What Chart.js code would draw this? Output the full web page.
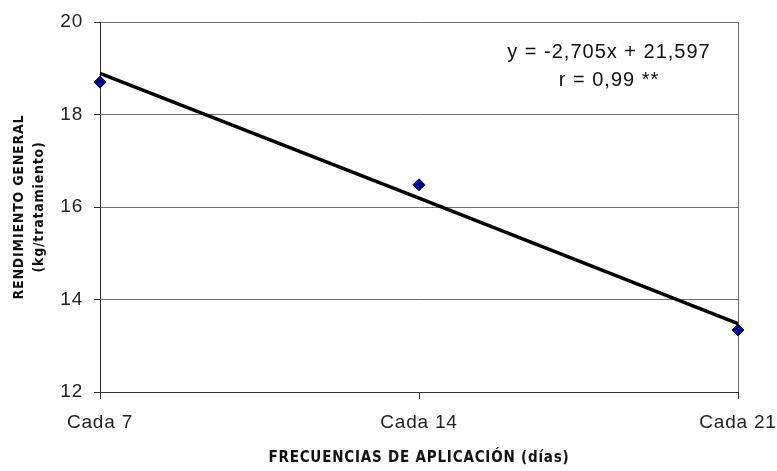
<!DOCTYPE html>
<html>
<head>
<meta charset="utf-8">
<script src="https://cdn.jsdelivr.net/npm/chart.js@4"></script>
<style>
  html, body { margin: 0; padding: 0; background: #fff; }
  #wrap { width: 777px; height: 471px; }
</style>
</head>
<body>
<div id="wrap"><canvas id="rendChart" width="777" height="471"></canvas></div>
<script>
const categories = ["Cada 7", "Cada 14", "Cada 21"];
const rendimiento = [18.7, 16.48, 13.34];
const tendencia = [18.89, 16.19, 13.48];
const yTicks = [12, 14, 16, 18, 20];
const equationLines = ["y = -2,705x + 21,597", "r = 0,99 **"];

const baseFont = "'Liberation Sans', Arial, sans-serif";
const narrowFont = "'DejaVu Sans Condensed', 'Liberation Sans', Arial, sans-serif";

// slightly wider letter spacing, like the original Windows rendering
const spacingPlugin = {
    id: "spacing",
    beforeDraw(chart) { chart.ctx.letterSpacing = "0.8px"; },
    afterDraw(chart) { chart.ctx.letterSpacing = "0px"; }
};

// writes the regression text in the upper right corner
const equationPlugin = {
    id: "equation",
    afterDraw(chart) {
        const ctx = chart.ctx;
        ctx.save();
        ctx.letterSpacing = "1px";
        ctx.font = "20px " + baseFont;
        ctx.fillStyle = "#111";
        ctx.textAlign = "center";
        ctx.textBaseline = "middle";
        ctx.fillText(equationLines[0], 609, 52);
        ctx.fillText(equationLines[1], 609, 80);
        ctx.restore();
    }
};

const ctx = document.getElementById("rendChart").getContext("2d");

new Chart(ctx, {
    type: "line",
    data: {
        labels: categories,
        datasets: [
            {
                label: "Tendencia",
                data: tendencia,
                borderColor: "#000",
                borderWidth: 3.5,
                pointRadius: 0,
                fill: false,
                order: 2
            },
            {
                label: "Rendimiento",
                data: rendimiento,
                showLine: false,
                pointStyle: "rectRot",
                pointRadius: 6,
                pointBackgroundColor: "#000080",
                pointBorderColor: "#000080",
                order: 1
            }
        ]
    },
    options: {
        responsive: false,
        animation: false,
        layout: { padding: { top: 22, right: 39, left: 0, bottom: 0 } },
        plugins: {
            legend: { display: false },
            tooltip: { enabled: false }
        },
        scales: {
            x: {
                type: "category",
                offset: false,
                grid: {
                    color: (c) => c.index === categories.length - 1 ? "#6e6e6e" : "transparent",
                    tickColor: "#333",
                    tickLength: 7,
                    drawOnChartArea: true
                },
                border: { color: "#333" },
                ticks: {
                    color: "#222",
                    font: { family: baseFont, size: 19 },
                    padding: 12,
                    maxRotation: 0
                },
                title: {
                    display: true,
                    text: "FRECUENCIAS DE APLICACIÓN (días)",
                    color: "#111",
                    font: { family: narrowFont, size: 15, weight: "bold" },
                    padding: { top: 14 }
                },
                afterFit(scale) {
                    scale.height = 79;
                    scale.paddingLeft = 0;
                    scale.paddingRight = 0;
                }
            },
            y: {
                min: 12,
                max: 20,
                afterBuildTicks(scale) {
                    scale.ticks = yTicks.map(v => ({ value: v }));
                },
                grid: {
                    color: "#6e6e6e",
                    tickColor: "#333",
                    tickLength: 6
                },
                border: { color: "#333" },
                ticks: {
                    color: "#222",
                    font: { family: baseFont, size: 19 },
                    padding: 11
                },
                title: {
                    display: true,
                    text: ["RENDIMIENTO GENERAL", "(kg/tratamiento)"],
                    color: "#111",
                    font: { family: narrowFont, size: 14, weight: "bold", lineHeight: 1.4 },
                    padding: { top: 10, bottom: 0 }
                },
                afterFit(scale) {
                    scale.width = 100;
                    scale.paddingTop = 0;
                    scale.paddingBottom = 0;
                }
            }
        }
    },
    plugins: [spacingPlugin, equationPlugin]
});
</script>
</body>
</html>
